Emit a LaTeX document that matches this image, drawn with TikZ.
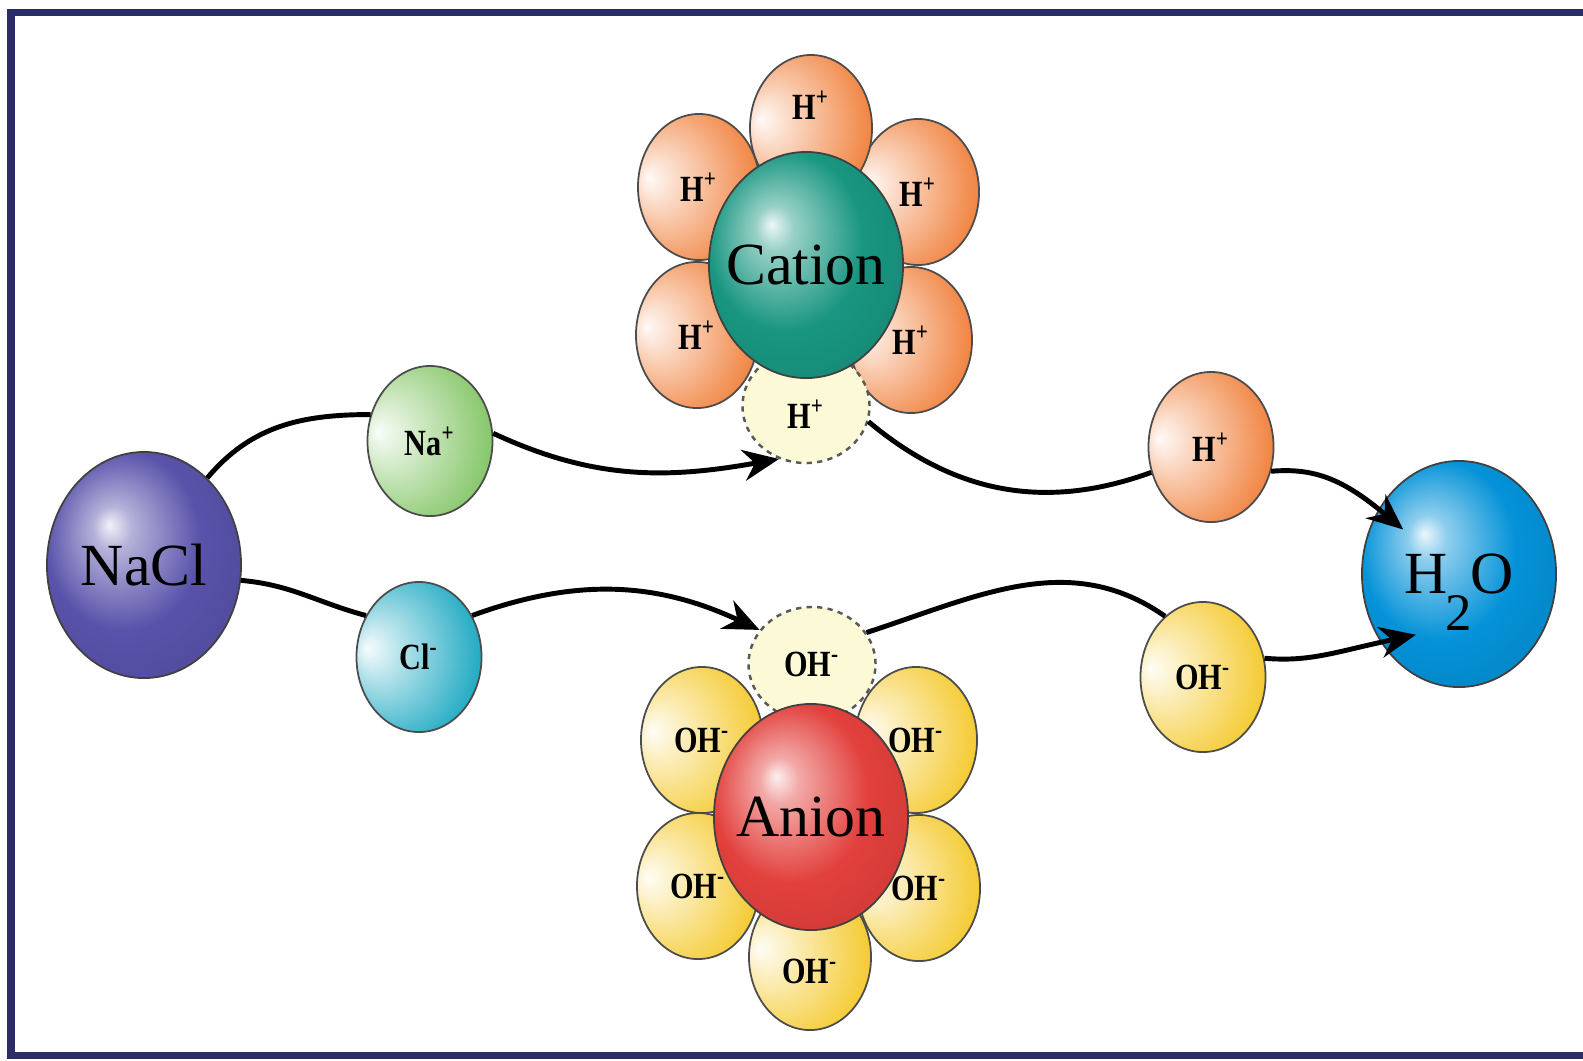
\documentclass[tikz,border=0pt]{standalone}
\usepackage{fontspec}
\setmainfont{Liberation Serif}
\newfontfamily\ionfont[FakeStretch=0.82]{Liberation Serif}
\usetikzlibrary{shapes.geometric, arrows.meta}

\definecolor{naclcol}{RGB}{88,82,170}
\definecolor{nacol}{RGB}{128,196,98}
\definecolor{clcol}{RGB}{22,166,192}
\definecolor{catcol}{RGB}{24,150,128}
\definecolor{hcol}{RGB}{240,126,56}
\definecolor{ohcol}{RGB}{244,200,40}
\definecolor{ancol}{RGB}{226,64,60}
\definecolor{watercol}{RGB}{4,146,216}
\definecolor{gapfill}{RGB}{252,250,214}
\definecolor{navy}{RGB}{44,44,104}

% shadings that follow the current fill colour
\colorlet{ballc}{blue}
\pgfdeclareradialshading[ballc]{sphere}{\pgfpoint{-9bp}{9bp}}{color(0bp)=(ballc!8!white); color(5bp)=(ballc!45!white); color(20bp)=(ballc); color(50bp)=(ballc!80!black)}
\colorlet{ionc}{orange}
\pgfdeclareradialshading[ionc]{iondrop}{\pgfpoint{-21bp}{3bp}}{color(0bp)=(ionc!4!white); color(9bp)=(ionc!30!white); color(34bp)=(ionc); color(50bp)=(ionc)}

\begin{document}
\begin{tikzpicture}[x=0.01cm, y=0.01cm]
        \tikzset{
            bigion/.style={ellipse, draw=black!75, line width=0.5pt, inner sep=0pt,
                minimum width=1.94cm, minimum height=2.26cm,
                font=\fontsize{17}{17}\selectfont,
                /utils/exec={\colorlet{ballc}{#1}}, shading=sphere},
            ion/.style={ellipse, draw=black!70, line width=0.5pt, inner sep=0pt,
                minimum width=1.25cm, minimum height=1.5cm,
                font=\ionfont\bfseries\fontsize{10.5}{10.5}\selectfont,
                /utils/exec={\colorlet{ionc}{#1}}, shading=iondrop},
            petal/.style={ion=#1, minimum width=1.22cm, minimum height=1.46cm},
            gap/.style={ellipse, draw=black!65, dash pattern=on 1.5pt off 1.5pt,
                line width=0.7pt, fill=gapfill, inner sep=0pt,
                minimum width=1.27cm, minimum height=1.14cm,
                font=\ionfont\bfseries\fontsize{10.5}{10.5}\selectfont},
            lift/.style={text depth=#1},
            sink/.style={text height=#1},
            link/.style={line width=1.4pt, black},
            flow/.style={link, -{Stealth[length=3.6mm, width=3.1mm]}},
            deep/.style={shorten >=-#1},
            boxline/.style={draw=navy, line width=0.07cm}
        }

        \useasboundingbox (0,0) rectangle (1583,-1060);
        \draw[boxline] (1583,-12) -- (11,-12) -- (11,-1055) -- (1583,-1055);

        % Nodes
        \node[bigion=naclcol] (nacl) at (144,-565) {\makebox[0pt]{NaCl}};
        \node[ion=nacol] (na) at (430,-441) {Na\textsuperscript{+}};
        \node[ion=clcol] (cl) at (419,-657) {Cl\textsuperscript{-}};

        \node[petal=hcol] (hul) at (699,-187) {H\textsuperscript{+}};
        \node[petal=hcol] (hur) at (918,-192) {H\textsuperscript{+}};
        \node[petal=hcol] (hll) at (697,-335) {H\textsuperscript{+}};
        \node[petal=hcol] (hlr) at (911,-340) {H\textsuperscript{+}};
        \node[petal=hcol, lift=13pt] (htop) at (811,-128) {H\textsuperscript{+}};
        \node[gap, sink=13pt] (hgap) at (806,-406) {H\textsuperscript{+}};
        \node[bigion=catcol] (cation) at (806,-265) {\makebox[0pt]{Cation}};

        \node[petal=ohcol] (oul) at (702,-740) {OH\textsuperscript{-}};
        \node[petal=ohcol] (our) at (916,-740) {OH\textsuperscript{-}};
        \node[petal=ohcol] (oll) at (698,-886) {OH\textsuperscript{-}};
        \node[petal=ohcol] (olr) at (919,-888) {OH\textsuperscript{-}};
        \node[petal=ohcol, sink=15pt] (obot) at (810,-957) {OH\textsuperscript{-}};
        \node[gap] (ogap) at (812,-664) {OH\textsuperscript{-}};
        \node[bigion=ancol] (anion) at (811,-817) {\makebox[0pt]{Anion}};

        \node[ion=hcol] (hfree) at (1211,-447) {H\textsuperscript{+}};
        \node[ion=ohcol] (ohfree) at (1203,-677) {OH\textsuperscript{-}};
        \node[bigion=watercol, text depth=0pt] (water) at (1459,-574) {\makebox[0pt]{H\kern-0.04em\raisebox{-0.62em}{\fontsize{15}{15}\selectfont 2}\kern-0.02em O}};

        % Edges
        \draw[link] (nacl.54) to[out=50, in=180] (na.156);
        \draw[flow] (na.7) to[out=-25, in=190] (hgap.243);
        \draw[link] (hgap.346) to[out=-40, in=200] (hfree.203);
        \draw[flow, deep=0.32cm] (hfree.338) to[out=5, in=140] (water.141);
        \draw[link] (nacl.351) to[out=-5, in=165] (cl.142);
        \draw[flow] (cl.38) to[out=20, in=155] (ogap.147);
        \draw[link] (ogap.30) to[out=18, in=145] (ohfree.122);
        \draw[flow, deep=0.36cm] (ohfree.17) to[out=-5, in=192] (water.221);
\end{tikzpicture}
\end{document}
